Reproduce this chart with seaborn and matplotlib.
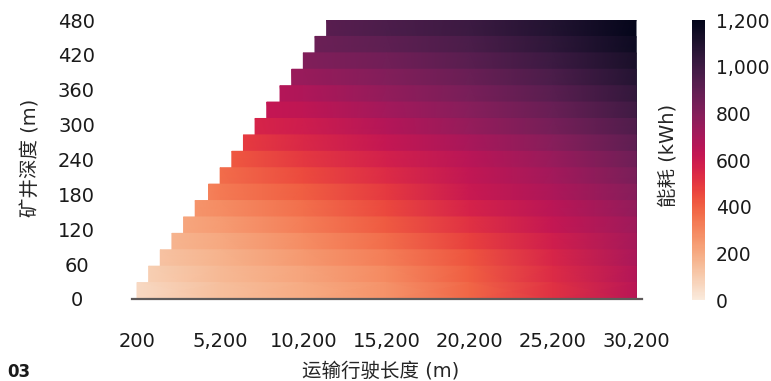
import numpy as np
import matplotlib
matplotlib.use("Agg")
import matplotlib.pyplot as plt
from matplotlib import ticker
from matplotlib.colors import Normalize
from matplotlib.cm import ScalarMappable
import seaborn as sns

nan = np.nan

# mine depth rows (m)
depth_m = [0, 30, 60, 90, 120, 150, 180, 210, 240, 270, 300, 330, 360, 390, 420, 450, 480]
# first feasible transport distance for each depth row (m)
start_distance_m = [200, 900, 1600, 2300, 3000, 3700, 4500, 5200, 5900,
                    6600, 7300, 8000, 8800, 9500, 10200, 10900, 11600]
# energy at that first distance (kWh)
start_energy_kwh = [60, 90, 130, 170, 215, 265, 315, 370, 420,
                    490, 560, 620, 670, 740, 810, 870, 920]
# energy read at the tick distances (kWh), nan where the row has no data
anchor_distance_m = [200, 5200, 10200, 15200, 20200, 25200, 30200]
energy_kwh = [
    [60, 140, 200, 270, 385, 520, 650],
    [nan, 155, 220, 295, 405, 535, 670],
    [nan, 175, 250, 325, 430, 555, 690],
    [nan, 205, 285, 370, 475, 585, 705],
    [nan, 240, 325, 415, 520, 620, 725],
    [nan, 285, 365, 455, 565, 650, 755],
    [nan, 335, 405, 495, 605, 685, 790],
    [nan, 370, 450, 535, 630, 715, 825],
    [nan, nan, 500, 575, 655, 745, 860],
    [nan, nan, 545, 620, 700, 790, 905],
    [nan, nan, 590, 670, 750, 840, 950],
    [nan, nan, 635, 715, 790, 880, 995],
    [nan, nan, 680, 760, 830, 920, 1040],
    [nan, nan, 745, 805, 875, 965, 1080],
    [nan, nan, 810, 850, 920, 1010, 1120],
    [nan, nan, nan, 905, 965, 1050, 1155],
    [nan, nan, nan, 960, 1010, 1090, 1190],
]
depth_ticks = [0, 60, 120, 180, 240, 300, 360, 420, 480]
energy_ticks = [0, 200, 400, 600, 800, 1000, 1200]

sns.set_theme(style="white")
plt.rcParams["font.family"] = ["DejaVu Sans", "Noto Sans CJK SC"]
plt.rcParams["text.color"] = "#1a1a1a"

cmap = sns.color_palette("rocket_r", as_cmap=True)
norm = Normalize(vmin=energy_ticks[0], vmax=energy_ticks[-1])

W, H = 771, 381
fig = plt.figure(figsize=(W / 100, H / 100), dpi=100)
ax = fig.add_axes([132 / W, 82 / H, 510 / W, 279 / H])

anchors = np.array(anchor_distance_m, dtype=float)
edges = np.linspace(depth_m[0], depth_m[-1], len(depth_m) + 1)
# top row first; each band reaches down to the axis so the next row covers it
for i in reversed(range(len(depth_m))):
    row = np.array(energy_kwh[i], dtype=float)
    keep = anchors > start_distance_m[i]
    xs = np.r_[start_distance_m[i], anchors[keep]]
    cs = np.r_[start_energy_kwh[i], row[keep]]
    ax.pcolormesh(xs, [edges[0], edges[i + 1]], np.vstack([cs, cs]),
                  shading="gouraud", cmap=cmap, norm=norm)

ax.set_xlim(-100, 30560)
ax.set_ylim(depth_m[0], depth_m[-1])
ax.set_xticks(anchor_distance_m)
ax.set_yticks(depth_ticks)
ax.xaxis.set_major_formatter(ticker.StrMethodFormatter("{x:,.0f}"))
ax.tick_params(axis="both", length=0, labelsize=14, colors="#1a1a1a")
ax.tick_params(axis="x", pad=24)
ax.tick_params(axis="y", pad=40)
for lab in ax.get_yticklabels():
    lab.set_horizontalalignment("center")
sns.despine(ax=ax, left=True)
ax.spines["bottom"].set_color("#5e5a5a")
ax.spines["bottom"].set_linewidth(1.6)
ax.grid(False)

ax.set_xlabel("运输行驶长度 (m)", fontsize=14)
ax.xaxis.label.set_va("center")
ax.xaxis.set_label_coords(381 / W, 1 - 371 / H, transform=fig.transFigure)
ax.set_ylabel("矿井深度 (m)", fontsize=14)
ax.yaxis.label.set_va("center")
ax.yaxis.set_label_coords(31 / W, 1 - 158 / H, transform=fig.transFigure)

cax = fig.add_axes([692 / W, 81 / H, 13 / W, 280 / H])
cbar = fig.colorbar(ScalarMappable(norm=norm, cmap=cmap), cax=cax)
cbar.outline.set_visible(False)
cbar.set_ticks(energy_ticks)
cax.yaxis.set_major_formatter(ticker.StrMethodFormatter("{x:,.0f}"))
cax.tick_params(length=0, pad=8, labelsize=13.5, colors="#1a1a1a")
cax.yaxis.set_label_position("left")
cax.set_ylabel("能耗 (kWh)", fontsize=14)
cax.yaxis.label.set_va("center")
cax.yaxis.set_label_coords(668 / W, 1 - 155 / H, transform=fig.transFigure)

fig.text(7 / W, 1 - 372 / H, "03", fontsize=12, fontweight="bold",
         ha="left", va="center")

fig.savefig("out.png", dpi=100)
